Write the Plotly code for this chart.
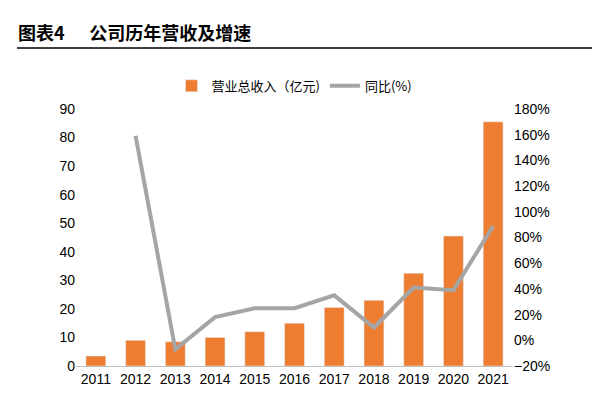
import plotly.graph_objects as go

years = ["2011","2012","2013","2014","2015","2016","2017","2018","2019","2020","2021"]
revenue = [3.5, 9, 8.5, 10, 12, 15, 20.5, 23, 32.5, 45.5, 85.5]
growth = [None, 159, -7, 18, 25, 25, 35, 10, 41, 39, 89]

fig = go.Figure()
fig.add_trace(go.Bar(x=years, y=revenue, name="营业总收入（亿元)", marker_color="#ED7D31", width=0.5))
fig.add_trace(go.Scatter(x=years, y=growth, name="同比(%)", yaxis="y2", mode="lines",
                         line=dict(color="#A5A5A5", width=4), connectgaps=False))
font = "Noto Sans CJK SC"
tickf = dict(size=14, family="Liberation Sans")
fig.update_layout(
    width=600, height=400, plot_bgcolor="white", paper_bgcolor="white",
    font=dict(family=font, size=13, color="black"),
    margin=dict(l=68, r=95, t=101, b=42),
    showlegend=True,
    legend=dict(orientation="h", x=0.5, xanchor="center", y=1.09, yanchor="middle", font=dict(size=13)),
    xaxis=dict(showline=True, linecolor="#BFBFBF", ticks="", tickfont=tickf),
    yaxis=dict(range=[0, 90], dtick=10, showgrid=False, ticks="", tickfont=tickf, zeroline=False),
    yaxis2=dict(range=[-20, 180], dtick=20, overlaying="y", side="right", showgrid=False,
                ticksuffix="%", tickfont=tickf, zeroline=False),
    annotations=[dict(text="<b>图表4      公司历年营收及增速</b>", x=0, y=1, xref="paper", yref="paper",
                      xanchor="left", yanchor="bottom", showarrow=False, font=dict(size=18, family=font),
                      xshift=-60, yshift=62)],
    shapes=[dict(type="line", xref="paper", yref="paper", x0=-0.135, x1=1.19, y0=1.237, y1=1.237,
                 line=dict(color="black", width=1.5))],
)
fig.write_html("out.html")
